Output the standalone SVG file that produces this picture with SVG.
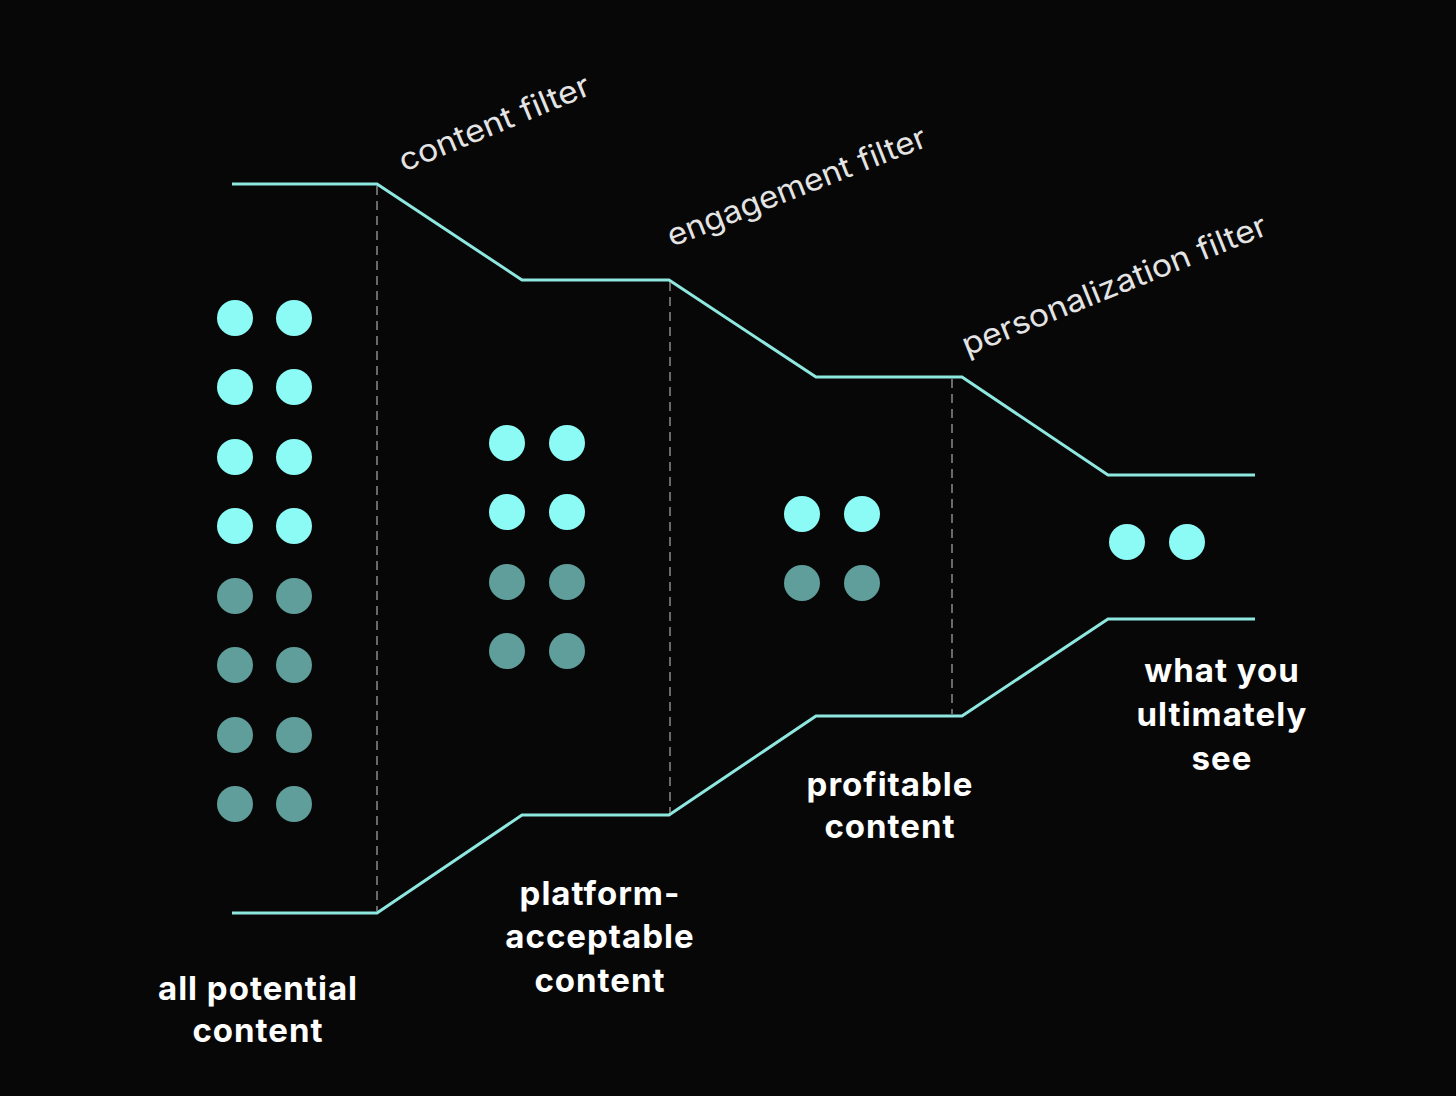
<svg xmlns="http://www.w3.org/2000/svg" width="1456" height="1096" viewBox="0 0 1456 1096">
<style>
.bg{fill:#070707}
.funnel{fill:none;stroke:#8ee8e0;stroke-width:3;stroke-linejoin:miter}
.dash{stroke:#8a8a8a;stroke-width:1.5;stroke-dasharray:9 6;fill:none}
.on{fill:#8cfbf6}
.off{fill:#5f9e9b}
.flt{font-family:Inter,"Liberation Sans",sans-serif;font-size:31px;fill:#e4e4e4}
.lbl{font-family:Inter,"Liberation Sans",sans-serif;font-size:33px;font-weight:700;fill:#ffffff;text-anchor:middle;letter-spacing:1px}
</style>
<rect class="bg" x="0" y="0" width="1456" height="1096"/>
<g id="connectors">
<path class="funnel" d="M232,184 L377,184 L522,280 L669,280 L816,377 L962,377 L1108,475 L1255,475"/>
<path class="funnel" d="M232,913 L377,913 L522,815 L669,815 L816,716 L962,716 L1108,619 L1255,619"/>
<line class="dash" x1="377" y1="186" x2="377" y2="911"/>
<line class="dash" x1="670" y1="282" x2="670" y2="813"/>
<line class="dash" x1="952" y1="379" x2="952" y2="714"/>
</g>
<g id="filter-labels">
<text class="flt" transform="translate(404,172) rotate(-22.5)" textLength="204" lengthAdjust="spacingAndGlyphs">content filter</text>
<text class="flt" transform="translate(672,247) rotate(-21.5)" textLength="276" lengthAdjust="spacingAndGlyphs">engagement filter</text>
<text class="flt" transform="translate(967,356) rotate(-22)" textLength="326" lengthAdjust="spacingAndGlyphs">personalization filter</text>
</g>
<g id="all-potential-content">
<circle class="on" cx="235" cy="318" r="18"/><circle class="on" cx="294" cy="318" r="18"/>
<circle class="on" cx="235" cy="387" r="18"/><circle class="on" cx="294" cy="387" r="18"/>
<circle class="on" cx="235" cy="457" r="18"/><circle class="on" cx="294" cy="457" r="18"/>
<circle class="on" cx="235" cy="526" r="18"/><circle class="on" cx="294" cy="526" r="18"/>
<circle class="off" cx="235" cy="596" r="18"/><circle class="off" cx="294" cy="596" r="18"/>
<circle class="off" cx="235" cy="665" r="18"/><circle class="off" cx="294" cy="665" r="18"/>
<circle class="off" cx="235" cy="735" r="18"/><circle class="off" cx="294" cy="735" r="18"/>
<circle class="off" cx="235" cy="804" r="18"/><circle class="off" cx="294" cy="804" r="18"/>
<text class="lbl" x="258" y="1000">all potential</text>
<text class="lbl" x="258" y="1042">content</text>
</g>
<g id="platform-acceptable-content">
<circle class="on" cx="507" cy="443" r="18"/><circle class="on" cx="567" cy="443" r="18"/>
<circle class="on" cx="507" cy="512" r="18"/><circle class="on" cx="567" cy="512" r="18"/>
<circle class="off" cx="507" cy="582" r="18"/><circle class="off" cx="567" cy="582" r="18"/>
<circle class="off" cx="507" cy="651" r="18"/><circle class="off" cx="567" cy="651" r="18"/>
<text class="lbl" x="600" y="905">platform-</text>
<text class="lbl" x="600" y="948">acceptable</text>
<text class="lbl" x="600" y="992">content</text>
</g>
<g id="profitable-content">
<circle class="on" cx="802" cy="514" r="18"/><circle class="on" cx="862" cy="514" r="18"/>
<circle class="off" cx="802" cy="583" r="18"/><circle class="off" cx="862" cy="583" r="18"/>
<text class="lbl" x="890" y="796">profitable</text>
<text class="lbl" x="890" y="838">content</text>
</g>
<g id="what-you-ultimately-see">
<circle class="on" cx="1127" cy="542" r="18"/><circle class="on" cx="1187" cy="542" r="18"/>
<text class="lbl" x="1222" y="682">what you</text>
<text class="lbl" x="1222" y="726">ultimately</text>
<text class="lbl" x="1222" y="770">see</text>
</g>
</svg>
